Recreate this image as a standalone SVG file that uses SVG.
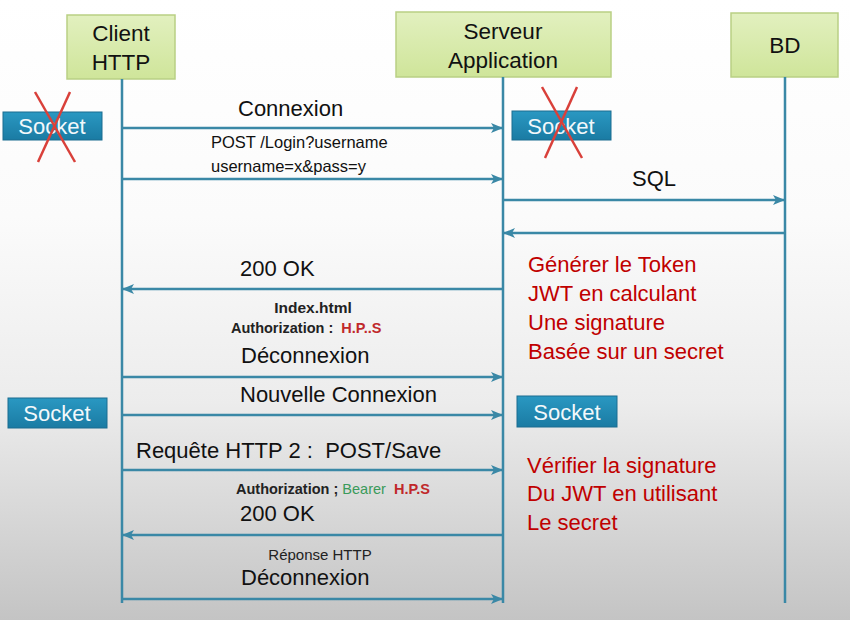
<svg xmlns="http://www.w3.org/2000/svg" width="850" height="620" viewBox="0 0 850 620">
<defs>
<linearGradient id="bg" x1="0" y1="0" x2="0" y2="1">
<stop offset="0" stop-color="#ffffff"/>
<stop offset="0.35" stop-color="#fbfbfb"/>
<stop offset="0.65" stop-color="#ececec"/>
<stop offset="1" stop-color="#c4c4c4"/>
</linearGradient>
<linearGradient id="node" x1="0" y1="0" x2="0" y2="1">
<stop offset="0" stop-color="#e2f0bf"/>
<stop offset="1" stop-color="#cfe59a"/>
</linearGradient>
<linearGradient id="sock" x1="0" y1="0" x2="0" y2="1">
<stop offset="0" stop-color="#2a98c2"/>
<stop offset="1" stop-color="#1a7ba3"/>
</linearGradient>
<marker id="ah" viewBox="0 0 12 10" refX="11" refY="5" markerWidth="12" markerHeight="10" markerUnits="userSpaceOnUse" orient="auto">
<path d="M0,0 L12,5 L0,10 L3,5 Z" fill="#3a88a6"/>
</marker>
<style>
.box{fill:url(#node);stroke:#b9cf84;stroke-width:1.5}
.life{stroke:#3a88a6;stroke-width:2.5;fill:none}
.msg{stroke:#3a88a6;stroke-width:2.5;fill:none;marker-end:url(#ah)}
.hdr{font-family:"Liberation Sans",Arial,sans-serif;font-size:22.5px;fill:#111;text-anchor:middle}
.lbl{font-family:"Liberation Sans",Arial,sans-serif;font-size:22px;fill:#111;white-space:pre}
.sm{font-family:"Liberation Sans",Arial,sans-serif;font-size:16.5px;fill:#111}
.b{font-family:"Liberation Sans",Arial,sans-serif;font-size:14.5px;font-weight:bold;fill:#222;white-space:pre}
.rp{font-family:"Liberation Sans",Arial,sans-serif;font-size:15px;fill:#222;text-anchor:middle}
.red{font-family:"Liberation Sans",Arial,sans-serif;font-size:22px;fill:#c00000}
.sk rect{fill:url(#sock);stroke:#1a6d90;stroke-width:1}
.sk text{font-family:"Liberation Sans",Arial,sans-serif;font-size:22px;fill:#f2f8fb;text-anchor:middle}
.x{stroke:#d9403a;stroke-width:2.5}
</style>
</defs>
<rect width="850" height="620" fill="url(#bg)"/>

<g id="client">
<rect class="box" x="67" y="15" width="108" height="64"/>
<text class="hdr" x="121" y="41">Client</text>
<text class="hdr" x="121" y="70">HTTP</text>
</g>
<g id="serveur">
<rect class="box" x="396" y="12" width="215" height="65"/>
<text class="hdr" x="503" y="39">Serveur</text>
<text class="hdr" x="503" y="68">Application</text>
</g>
<g id="bd">
<rect class="box" x="731" y="13" width="107" height="64"/>
<text class="hdr" x="785" y="53">BD</text>
</g>

<g id="lifelines">
<line class="life" x1="122" y1="79" x2="122" y2="603"/>
<line class="life" x1="503" y1="77" x2="503" y2="603"/>
<line class="life" x1="785" y1="77" x2="785" y2="603"/>
</g>

<g id="sockets">
<g id="socket1" class="sk">
<rect x="3" y="112" width="99" height="28"/>
<text x="52" y="134">Socket</text>
<line class="x" x1="35" y1="92" x2="75" y2="162"/>
<line class="x" x1="70" y1="92" x2="38" y2="162"/>
</g>
<g id="socket2" class="sk">
<rect x="512" y="111" width="99" height="29"/>
<text x="561" y="134">Socket</text>
<line class="x" x1="542" y1="87" x2="582" y2="158"/>
<line class="x" x1="577" y1="87" x2="545" y2="158"/>
</g>
<g id="socket3" class="sk">
<rect x="8" y="398" width="99" height="30"/>
<text x="57" y="421">Socket</text>
</g>
<g id="socket4" class="sk">
<rect x="517" y="396" width="100" height="31"/>
<text x="567" y="420">Socket</text>
</g>
</g>

<g id="connectors">
<line class="msg" x1="123" y1="128" x2="502" y2="128"/>
<line class="msg" x1="123" y1="179" x2="502" y2="179"/>
<line class="msg" x1="504" y1="200" x2="784" y2="200"/>
<line class="msg" x1="784" y1="233" x2="504" y2="233"/>
<line class="msg" x1="502" y1="289" x2="123" y2="289"/>
<line class="msg" x1="123" y1="377" x2="502" y2="377"/>
<line class="msg" x1="123" y1="415" x2="502" y2="415"/>
<line class="msg" x1="123" y1="470" x2="502" y2="470"/>
<line class="msg" x1="502" y1="535" x2="123" y2="535"/>
<line class="msg" x1="123" y1="599" x2="502" y2="599"/>
</g>

<g id="labels">
<text class="lbl" x="238" y="116">Connexion</text>
<text class="sm" x="211" y="148">POST /Login?username</text>
<text class="sm" x="211" y="172">username=x&amp;pass=y</text>
<text class="lbl" x="632" y="186">SQL</text>
<text class="lbl" x="240" y="276">200 OK</text>
<text class="b" x="313" y="313" text-anchor="middle" style="font-size:15.5px">Index.html</text>
<text class="b" x="231" y="333">Authorization :  <tspan fill="#c0282a">H.P..S</tspan></text>
<text class="lbl" x="241" y="363">Déconnexion</text>
<text class="lbl" x="240" y="402">Nouvelle Connexion</text>
<text class="lbl" x="136" y="458">Requête HTTP 2 :  POST/Save</text>
<text class="b" x="236" y="494">Authorization ; <tspan style="font-weight:normal" fill="#3a9a5a">Bearer</tspan>  <tspan fill="#c0282a">H.P.S</tspan></text>
<text class="lbl" x="240" y="521">200 OK</text>
<text class="rp" x="320" y="560">Réponse HTTP</text>
<text class="lbl" x="241" y="585">Déconnexion</text>
</g>

<g id="notes">
<text class="red" x="528" y="272">Générer le Token</text>
<text class="red" x="528" y="301">JWT en calculant</text>
<text class="red" x="528" y="330">Une signature</text>
<text class="red" x="528" y="359">Basée sur un secret</text>
<text class="red" x="527" y="473">Vérifier la signature</text>
<text class="red" x="527" y="501">Du JWT en utilisant</text>
<text class="red" x="527" y="530">Le secret</text>
</g>
</svg>
